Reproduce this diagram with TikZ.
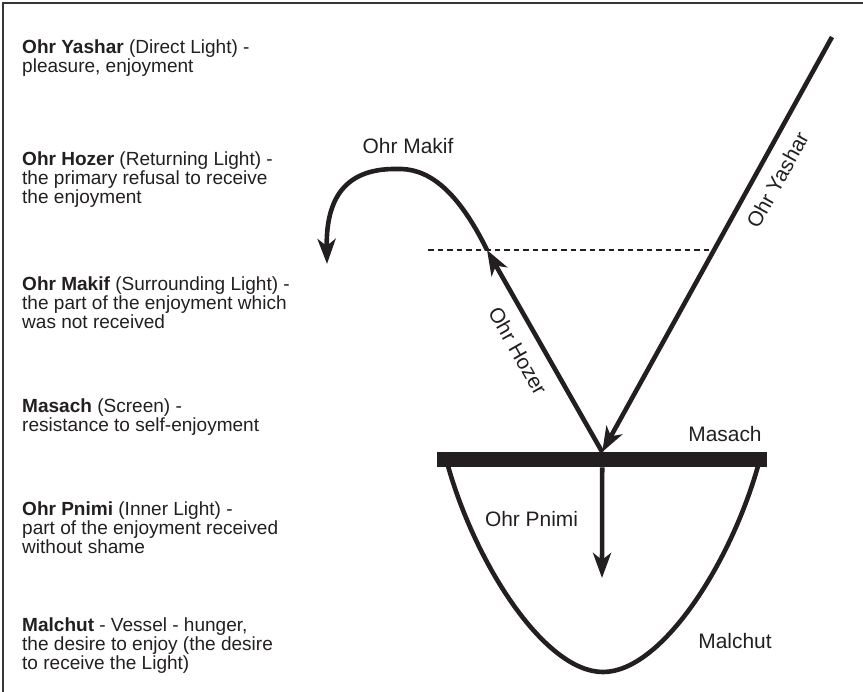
\documentclass[tikz,border=0pt]{standalone}
\usepackage{fontspec}
\setmainfont{Liberation Sans}
\usetikzlibrary{arrows.meta}
\definecolor{ink}{HTML}{231F20}
\begin{document}
\begin{tikzpicture}[x=1bp,y=-1bp,
  every node/.style={text=ink},
  desc/.style={anchor=base west, align=left, inner sep=0pt, font=\fontsize{19.1}{19.2}\selectfont},
  lbl/.style={inner sep=0pt, font=\fontsize{21}{24}\selectfont},
  heavy/.style={draw=ink, line width=4.6bp, line join=round},
  tip/.style={-{Stealth[length=25bp,width=18bp,inset=7bp]}},
  guide/.style={draw=ink, line width=1.3bp, dash pattern=on 5.5bp off 4bp},
  frame/.style={draw=ink!90, line width=2.5bp}
]
\useasboundingbox (0,0) rectangle (863,692);
\draw[frame] (3,692) -- (3,3) -- (863,3);

% coordinates
\coordinate (ytop) at (832,37);
\coordinate (htop) at (487,250);
\coordinate (dashL) at (428,250);
\coordinate (dashR) at (714,250);
\coordinate (mtip) at (327,264);
\coordinate (ptip) at (602,578);
\coordinate (vl) at (448,466);
\coordinate (vr) at (758,466);
\coordinate (vb) at (603,672);

% screen bar
\node[fill=ink, minimum width=330bp, minimum height=15bp, inner sep=0pt, anchor=north west] (bar) at (437,452) {};

% vessel
\draw[heavy] (vl) .. controls (476,565) and (545,672) .. (vb) .. controls (661,672) and (730,565) .. (vr);

% dashed guide
\draw[guide] (dashL) -- (dashR);

% lights
\draw[heavy, tip] (ytop) -- (bar.north);
\draw[heavy, tip] (bar.north) -- (htop);
\draw[heavy, tip] (htop) .. controls (455,185) and (425,168) .. (397,169) .. controls (340,168) and (326,205) .. (mtip);
\draw[heavy, tip] (bar.south) -- (ptip);

% diagram labels
\node[lbl, anchor=base] (lmakif) at (408,154) {Ohr Makif};
\node[lbl, anchor=base] (lmasach) at (725,441) {Masach};
\node[lbl, anchor=base] (lpnimi) at (531.5,526) {Ohr Pnimi};
\node[lbl, anchor=base] (lmalchut) at (735,648) {Malchut};
\node[lbl, rotate=61] (lyashar) at (777.5,180) {Ohr Yashar};
\node[lbl, rotate=-60.3] (lhozer) at (518,351) {Ohr Hozer};

% descriptions (anchor base = baseline of last line)
\node[desc] (d1) at (22,72.2) {\textbf{Ohr Yashar} (Direct Light) -\\pleasure, enjoyment};
\node[desc] (d2) at (22,203.4) {\textbf{Ohr Hozer} (Returning Light) -\\the primary refusal to receive\\the enjoyment};
\node[desc] (d3) at (22,328.4) {\textbf{Ohr Makif} (Surrounding Light) -\\the part of the enjoyment which\\was not received};
\node[desc] (d4) at (22,431.2) {\textbf{Masach} (Screen) -\\resistance to self-enjoyment};
\node[desc] (d5) at (22,553.4) {\textbf{Ohr Pnimi} (Inner Light) -\\part of the enjoyment received\\without shame};
\node[desc] (d6) at (22,669.4) {\textbf{Malchut} - Vessel - hunger,\\the desire to enjoy (the desire\\to receive the Light)};
\end{tikzpicture}
\end{document}
